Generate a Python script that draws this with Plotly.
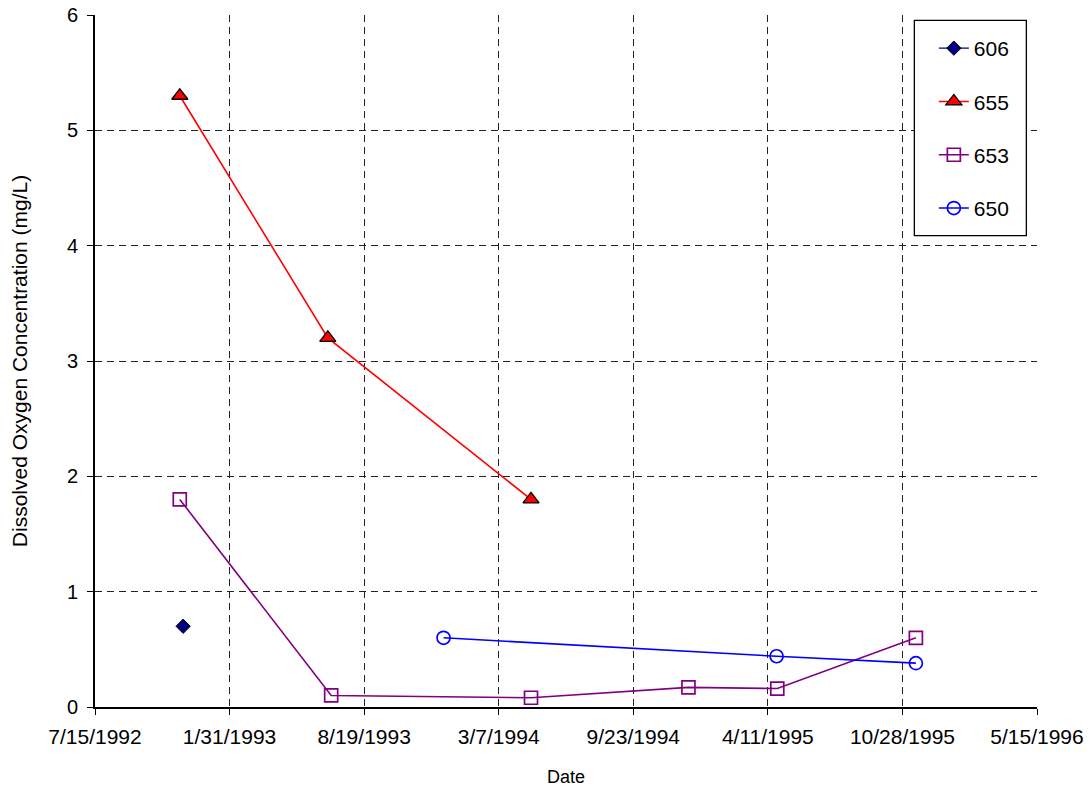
import plotly.graph_objects as go

# Dissolved oxygen measurements by well
dates_606 = ["1992-11-23"]
do_606 = [0.7]

dates_655 = ["1992-11-18", "1993-06-26", "1994-04-24"]
do_655 = [5.3, 3.2, 1.8]

dates_653 = ["1992-11-18", "1993-07-01", "1994-04-24", "1994-12-14", "1995-04-25", "1995-11-17"]
do_653 = [1.8, 0.1, 0.08, 0.17, 0.16, 0.6]

dates_650 = ["1993-12-15", "1995-04-24", "1995-11-17"]
do_650 = [0.6, 0.44, 0.38]

FONT = "Liberation Sans, Arial, sans-serif"
DAY_MS = 86400000

fig = go.Figure()

fig.add_trace(go.Scatter(
    x=dates_606, y=do_606, name="606", mode="lines+markers", legendgroup="606",
    line=dict(color="#000080", width=1.4),
    marker=dict(symbol="diamond", size=11, color="#000080", line=dict(color="black", width=1)),
))
fig.add_trace(go.Scatter(
    x=dates_655, y=do_655, name="655", mode="lines+markers", legendgroup="655",
    line=dict(color="#FF0000", width=1.6),
    marker=dict(symbol="triangle-up", size=14, color="#FF0000", line=dict(color="black", width=1.3)),
))
fig.add_trace(go.Scatter(
    x=dates_653, y=do_653, name="653", mode="lines+markers", legendgroup="653",
    line=dict(color="#800080", width=1.6),
    marker=dict(symbol="square-open", size=13, color="#800080", line=dict(width=1.7)),
))
fig.add_trace(go.Scatter(
    x=dates_650, y=do_650, name="650", mode="lines+markers", legendgroup="650",
    line=dict(color="#0000FF", width=1.6),
    marker=dict(symbol="circle-open", size=13, color="#0000FF", line=dict(width=1.7)),
))

# legend frame, drawn as a white box over the grid
fig.add_shape(
    type="rect", xref="paper", yref="paper",
    x0=0.8698, x1=0.9887, y0=0.6811, y1=0.9923,
    line=dict(color="black", width=1.3), fillcolor="white", layer="above",
)

fig.update_layout(
    width=1091, height=787,
    margin=dict(l=95, r=54, t=15, b=80),
    paper_bgcolor="white", plot_bgcolor="white",
    font=dict(family=FONT, size=20, color="black"),
    showlegend=True,
    legend=dict(
        x=0.8905, y=0.9812, xanchor="left", yanchor="top",
        bgcolor="rgba(0,0,0,0)", borderwidth=0,
        font=dict(family=FONT, size=21, color="black"),
        traceorder="grouped", tracegroupgap=23,
        itemwidth=30,
    ),
    xaxis=dict(
        type="date",
        range=["1992-07-15", "1996-05-15"],
        tick0="1992-07-15", dtick=200 * DAY_MS,
        tickformat="%-m/%-d/%Y",
        showgrid=True, gridcolor="#222222", gridwidth=1, griddash="7px,5px",
        showline=True, linecolor="black", linewidth=2,
        ticks="outside", ticklen=6, tickcolor="black",
        tickfont=dict(size=21), ticklabelstandoff=4,
        title=dict(text="Date", font=dict(size=18), standoff=23),
        zeroline=False, automargin=False,
    ),
    yaxis=dict(
        range=[0, 6], dtick=1,
        showgrid=True, gridcolor="#222222", gridwidth=1, griddash="7px,5px",
        showline=True, linecolor="black", linewidth=2,
        ticks="outside", ticklen=6, tickcolor="black",
        tickfont=dict(size=20), ticklabelstandoff=5,
        title=dict(text="Dissolved Oxygen Concentration (mg/L)", font=dict(size=21), standoff=34),
        zeroline=False, automargin=False,
    ),
)

fig.write_html("out.html")
